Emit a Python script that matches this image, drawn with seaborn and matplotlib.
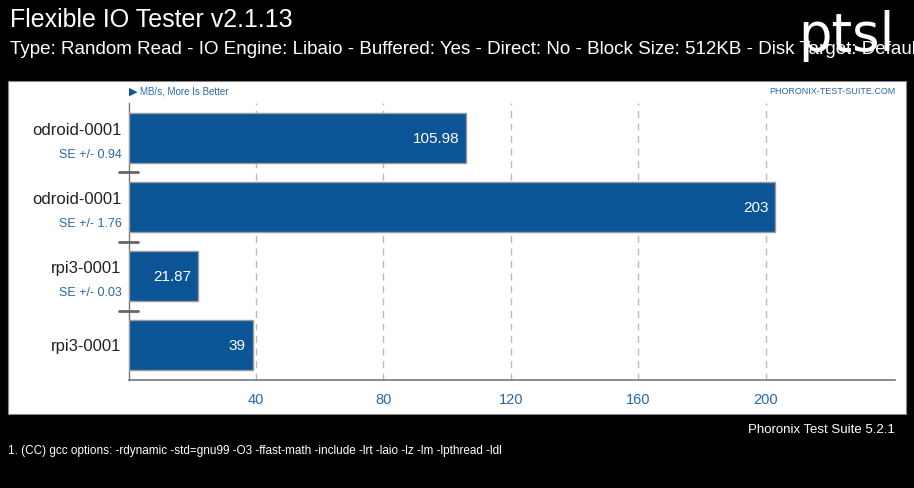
import matplotlib
matplotlib.use("Agg")
import matplotlib.pyplot as plt
from matplotlib.patches import Rectangle
import seaborn as sns
import pandas as pd

# data
labels = ["odroid-0001", "odroid-0001", "rpi3-0001", "rpi3-0001"]
values = [105.98, 203, 21.87, 39]
value_text = ["105.98", "203", "21.87", "39"]
se_text = ["SE +/- 0.94", "SE +/- 1.76", "SE +/- 0.03", ""]
xticks = [40, 80, 120, 160, 200]

title = "Flexible IO Tester v2.1.13"
subtitle = ("Type: Random Read - IO Engine: Libaio - Buffered: Yes - Direct: No - "
            "Block Size: 512KB - Disk Target: Default Test Directory")
footer_right = "Phoronix Test Suite 5.2.1"
footer_note = ("1. (CC) gcc options: -rdynamic -std=gnu99 -O3 -ffast-math -include -lrt -laio -lz "
               "-lm -lpthread -ldl")

sns.set_theme(style="white")
plt.rcParams["font.family"] = ["Liberation Sans Narrow", "Liberation Sans", "DejaVu Sans"]

bar_color = "#0b5596"
blue_text = "#2a68a8"

df = pd.DataFrame({"pos": [str(i) for i in range(len(values))], "value": values})

fig = plt.figure(figsize=(9.14, 4.89), dpi=100)
fig.patch.set_facecolor("black")

# white panel
fig.patches.append(Rectangle((8 / 914, 1 - 415 / 489), (906 - 8) / 914, (415 - 82) / 489,
                             transform=fig.transFigure, facecolor="white",
                             edgecolor="#888888", linewidth=0.8, zorder=-5))

ax = fig.add_axes([128.5 / 914, 1 - 381 / 489, (895 - 128.5) / 914, 277 / 489])
ax.set_zorder(2)
ax.set_facecolor("white")
sns.barplot(data=df, x="value", y="pos", orient="h", color=bar_color, width=0.72,
            edgecolor="#9a9a9a", linewidth=1.0, saturation=1, ax=ax, zorder=3)

ax.set_xlim(0, 240.5)
ax.set_ylim(3.5, -0.5)
ax.set_xticks(xticks)
ax.set_xticklabels([str(t) for t in xticks], color=blue_text, fontsize=10.5)
ax.tick_params(axis="x", length=6, width=1, color="#555555", direction="out", pad=3)
ax.tick_params(axis="y", left=False, labelleft=False)
ax.set_xlabel("")
ax.set_ylabel("")
ax.xaxis.grid(True, linestyle=(0, (5, 4)), color="#bbbbbb", linewidth=1)
ax.set_axisbelow(True)
for s in ["top", "right"]:
    ax.spines[s].set_visible(False)
ax.spines["left"].set_color("#777777")
ax.spines["bottom"].set_color("#777777")
ax.spines["left"].set_linewidth(1)
ax.spines["bottom"].set_linewidth(1.2)

# value labels
for i, (v, t) in enumerate(zip(values, value_text)):
    ax.text(v - 2.2, i, t, ha="right", va="center", color="white", fontsize=11, zorder=5)

# category labels and SE
lx = -0.009
for i, (lab, se) in enumerate(zip(labels, se_text)):
    if se:
        ax.text(lx, i - 0.12, lab, transform=ax.get_yaxis_transform(), ha="right",
                va="center", fontsize=12, color="#222222")
        ax.text(lx, i + 0.23, se, transform=ax.get_yaxis_transform(), ha="right",
                va="center", fontsize=9, color=blue_text)
    else:
        ax.text(lx, i, lab, transform=ax.get_yaxis_transform(), ha="right",
                va="center", fontsize=12, color="#222222")

# separators between groups
for i in range(len(values) - 1):
    ax.plot([-0.012, 0.012], [i + 0.5, i + 0.5], transform=ax.get_yaxis_transform(),
            color="#666666", linewidth=2, clip_on=False, zorder=4)

# header texts inside panel
ax.text(0, 1.045, "\u25B6", transform=ax.transAxes, ha="left", va="center",
        color=bar_color, fontsize=8)
ax.text(0.015, 1.045, "MB/s, More Is Better", transform=ax.transAxes, ha="left",
        va="center", color=blue_text, fontsize=7)
ax.text(1.0, 1.045, "PHORONIX-TEST-SUITE.COM", transform=ax.transAxes, ha="right",
        va="center", color=blue_text, fontsize=6.5)

# titles
fig.text(10 / 914, 1 - 20 / 489, title, color="white", fontsize=18, ha="left", va="center")
fig.text(10 / 914, 1 - 50 / 489, subtitle, color="white", fontsize=13.5, ha="left", va="center")
fig.text(846 / 914, 1 - 36 / 489, "ptsl", color="white", fontsize=38,
         ha="center", va="center", family=["DejaVu Sans"])

fig.text(895 / 914, 1 - 430 / 489, footer_right, color="white", fontsize=9.5,
         ha="right", va="center")
fig.text(8 / 914, 1 - 451 / 489, footer_note, color="white", fontsize=8.5,
         ha="left", va="center")

fig.savefig("out.png", dpi=100, facecolor=fig.get_facecolor())
